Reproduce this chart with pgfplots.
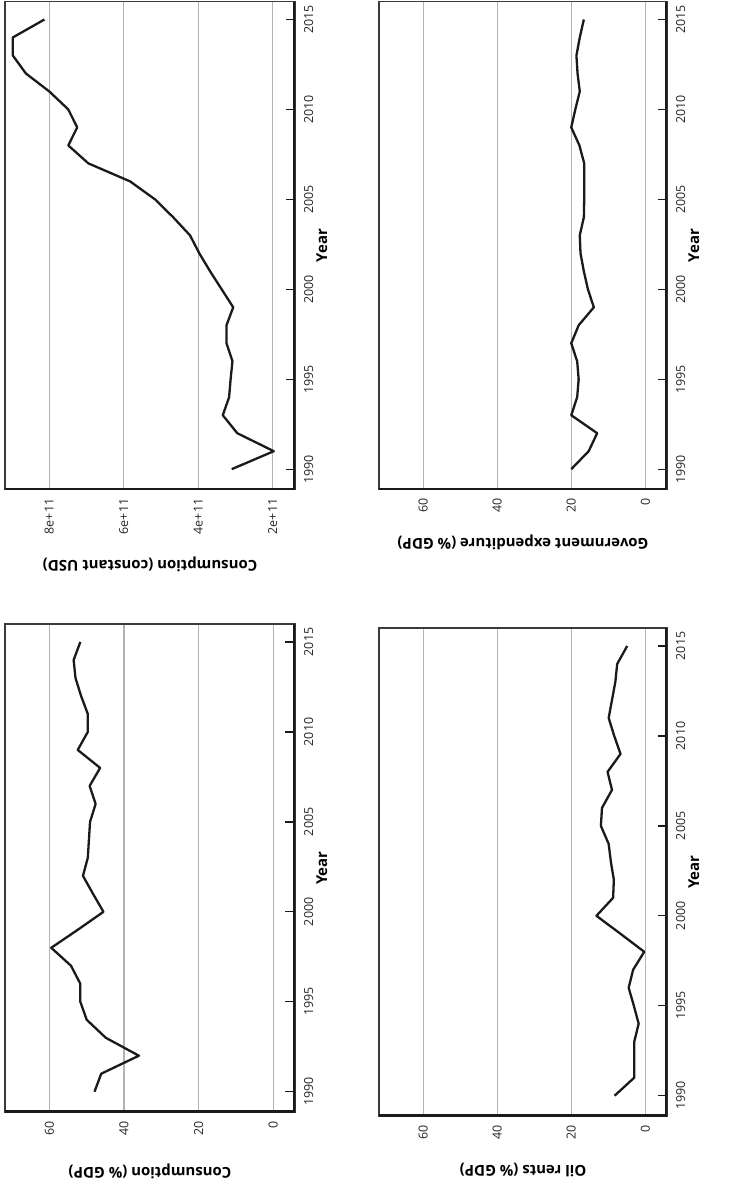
\documentclass[border=0pt]{standalone}
\usepackage{pgfplots}
\pgfplotsset{compat=1.18}
\usepackage{fontspec}
\setmainfont{Open Sans}
\definecolor{gridgray}{HTML}{B3B3B3}
\definecolor{boxgray}{HTML}{3A3A3A}
\definecolor{linecol}{HTML}{1A1A1A}
% year ticks (inward from the right-hand axis line) at (year-1988.87)/27.13
\newcommand\thickaxes{%
  \draw[line width=1.3bp, linecol] (axis description cs:1,0.04165) -- ++(-9.5bp,0bp);
  \draw[line width=1.3bp, linecol] (axis description cs:1,0.22595) -- ++(-9.5bp,0bp);
  \draw[line width=1.3bp, linecol] (axis description cs:1,0.41025) -- ++(-9.5bp,0bp);
  \draw[line width=1.3bp, linecol] (axis description cs:1,0.59455) -- ++(-9.5bp,0bp);
  \draw[line width=1.3bp, linecol] (axis description cs:1,0.77884) -- ++(-9.5bp,0bp);
  \draw[line width=1.3bp, linecol] (axis description cs:1,0.96314) -- ++(-9.5bp,0bp);
  \draw[line width=3.8bp, linecol, line join=miter] (axis description cs:0,0) -- (axis description cs:1,0) -- (axis description cs:1,1);}
\pgfplotsset{
 panel/.style={
  scale only axis, height=488bp,
  x dir=reverse,
  ymin=1988.87, ymax=2016.0,
  ytick={1990,1995,2000,2005,2010,2015},
  yticklabels={1990,1995,2000,2005,2010,2015},
  ytick pos=left, yticklabel pos=right,
  xtick pos=left, xticklabel pos=left,
  tick align=inside,
  major tick length=9bp,
  xtick style={draw=none},
  ytick style={draw=none},
  xmajorgrids, major grid style={gridgray, line width=1.1bp},
  axis line style={boxgray, line width=1.3bp},
  ticklabel style={font=\fontsize{12.5}{14}\selectfont, text=black!85},
  xticklabel style={rotate=90, anchor=east, inner sep=0pt},
  yticklabel style={rotate=90, anchor=north, inner sep=0pt},
  xticklabel shift=9bp, yticklabel shift=9bp,
  ylabel={Year},
  every axis y label/.style={at={(axis description cs:1.093,0.5)}, rotate=90, anchor=center, font=\fontsize{15}{18}\selectfont\bfseries},
 },
 pct/.style={xmin=-5.85, xmax=71.9, xtick={0,20,40,60}, xticklabels={0,20,40,60}},
}
\begin{document}
\begin{tikzpicture}
\useasboundingbox (0,0) rectangle (729bp,-1186bp);
% Top left: Consumption (constant USD), values in units of 1e11
\begin{axis}[panel, at={(5bp,-1.5bp)}, anchor=north west, width=290bp,
  xmin=1.40, xmax=9.19, xtick={2,4,6,8}, xticklabels={2e+11,4e+11,6e+11,8e+11},
  xlabel={Consumption (constant USD)},
  every axis x label/.style={at={(axis description cs:0.5,-0.1537)}, rotate=180, anchor=center, font=\fontsize{15}{18}\selectfont\bfseries}]
\addplot[linecol, line width=2.3bp, mark=none, line join=round] coordinates {(3.10,1990) (1.97,1991) (2.95,1992) (3.34,1993) (3.17,1994) (3.13,1995) (3.08,1996) (3.24,1997) (3.24,1998) (3.06,1999) (3.37,2000) (3.68,2001) (3.97,2002) (4.22,2003) (4.67,2004) (5.16,2005) (5.83,2006) (6.95,2007) (7.49,2008) (7.25,2009) (7.49,2010) (8.00,2011) (8.63,2012) (8.98,2013) (8.98,2014) (8.13,2015)};
\thickaxes
\end{axis}
% Top right: Government expenditure
\begin{axis}[panel, pct, at={(379bp,-1.5bp)}, anchor=north west, width=288bp,
  xlabel={Government expenditure (\% GDP)},
  every axis x label/.style={at={(axis description cs:0.5,-0.1086)}, rotate=180, anchor=center, font=\fontsize{15}{18}\selectfont\bfseries}]
\addplot[linecol, line width=2.3bp, mark=none, line join=round] coordinates {(20.0,1990) (15.3,1991) (13.0,1992) (20.0,1993) (18.4,1994) (18.0,1995) (18.4,1996) (20.0,1997) (18.0,1998) (13.9,1999) (15.5,2000) (16.6,2001) (17.5,2002) (17.7,2003) (16.6,2004) (16.5,2005) (16.5,2006) (16.5,2007) (17.8,2008) (20.0,2009) (18.9,2010) (17.7,2011) (18.3,2012) (18.6,2013) (17.7,2014) (16.6,2015)};
\thickaxes
\end{axis}
% Bottom left: Consumption (% GDP)
\begin{axis}[panel, pct, at={(5bp,-624bp)}, anchor=north west, width=290bp,
  xlabel={Consumption (\% GDP)},
  every axis x label/.style={at={(axis description cs:0.5,-0.1215)}, rotate=180, anchor=center, font=\fontsize{15}{18}\selectfont\bfseries}]
\addplot[linecol, line width=2.3bp, mark=none, line join=round] coordinates {(47.9,1990) (46.1,1991) (36.0,1992) (44.9,1993) (50.0,1994) (51.7,1995) (51.7,1996) (54.2,1997) (59.5,1998) (52.4,1999) (45.5,2000) (48.3,2001) (51.0,2002) (49.7,2003) (49.4,2004) (49.1,2005) (47.6,2006) (49.2,2007) (46.4,2008) (52.4,2009) (49.7,2010) (49.7,2011) (51.5,2012) (53.0,2013) (53.5,2014) (51.7,2015)};
\thickaxes
\end{axis}
% Bottom right: Oil rents
\begin{axis}[panel, pct, at={(379bp,-628bp)}, anchor=north west, width=288bp,
  xlabel={Oil rents (\% GDP)},
  every axis x label/.style={at={(axis description cs:0.5,-0.111)}, rotate=180, anchor=center, font=\fontsize{15}{18}\selectfont\bfseries}]
\addplot[linecol, line width=2.3bp, mark=none, line join=round] coordinates {(8.3,1990) (3.0,1991) (3.0,1992) (3.0,1993) (1.8,1994) (3.1,1995) (4.5,1996) (3.3,1997) (0.3,1998) (6.7,1999) (13.2,2000) (8.7,2001) (8.5,2002) (9.3,2003) (9.9,2004) (12.0,2005) (11.7,2006) (9.0,2007) (10.2,2008) (6.7,2009) (8.4,2010) (9.9,2011) (9.0,2012) (8.1,2013) (7.6,2014) (4.9,2015)};
\thickaxes
\end{axis}
\end{tikzpicture}
\end{document}
